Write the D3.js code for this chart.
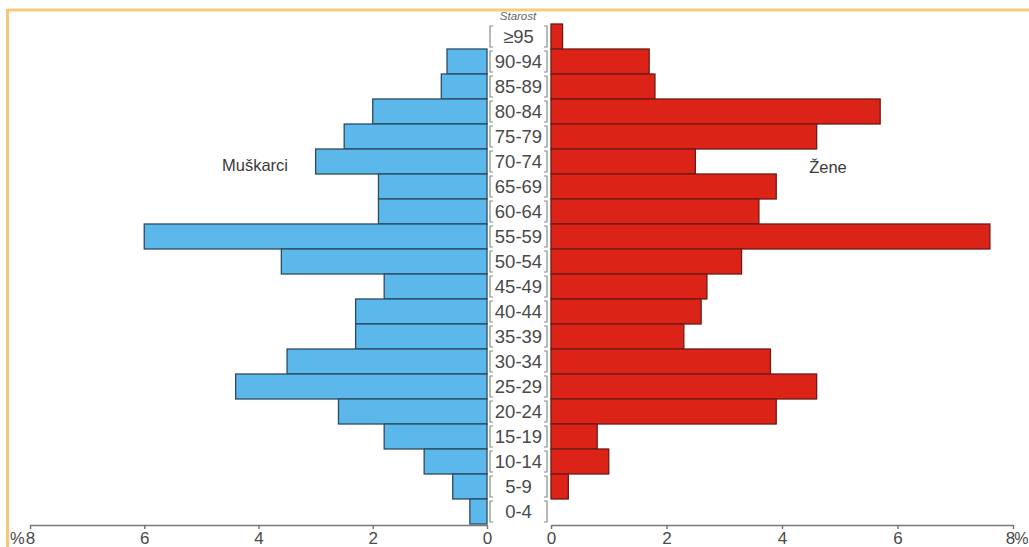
<!DOCTYPE html>
<html>
<head>
<meta charset="utf-8">
<script src="https://cdn.jsdelivr.net/npm/d3@7"></script>
<style>
  html, body { margin: 0; padding: 0; background: #ffffff; }
  svg { display: block; }
</style>
</head>
<body>
<svg id="chart" width="1029" height="547"></svg>
<script>
const ageGroups = ["≥95","90-94","85-89","80-84","75-79","70-74","65-69","60-64","55-59","50-54","45-49","40-44","35-39","30-34","25-29","20-24","15-19","10-14","5-9","0-4"];
const maleValues   = [0, 0.7, 0.8, 2.0, 2.5, 3.0, 1.9, 1.9, 6.0, 3.6, 1.8, 2.3, 2.3, 3.5, 4.4, 2.6, 1.8, 1.1, 0.6, 0.3];
const femaleValues = [0.2, 1.7, 1.8, 5.7, 4.6, 2.5, 3.9, 3.6, 7.6, 3.3, 2.7, 2.6, 2.3, 3.8, 4.6, 3.9, 0.8, 1.0, 0.3, 0];
const tickValues = [0, 2, 4, 6, 8];
const seriesLabels = ["Muškarci", "Žene"];
const axisTitle = "Starost";

const svg = d3.select("#chart");
const font = "'Liberation Sans', Arial, sans-serif";

// frame
svg.append("line").attr("x1", 7.5).attr("x2", 1029).attr("y1", 10).attr("y2", 10)
  .attr("stroke", "#f7cd7c").attr("stroke-width", 3);
svg.append("line").attr("x1", 7.5).attr("x2", 7.5).attr("y1", 9).attr("y2", 547)
  .attr("stroke", "#f5c878").attr("stroke-width", 3);

const xLeft = d3.scaleLinear().domain([0, 8]).range([487, 30]);
const xRight = d3.scaleLinear().domain([0, 8]).range([551, 1013]);
const y = d3.scaleBand().domain(ageGroups).range([24, 524]).padding(0);

// bars
svg.append("g").selectAll("rect").data(ageGroups.map((a, i) => ({a, v: maleValues[i]})).filter(d => d.v > 0))
  .join("rect")
  .attr("x", d => xLeft(d.v)).attr("y", d => y(d.a))
  .attr("width", d => xLeft(0) - xLeft(d.v)).attr("height", y.bandwidth())
  .attr("fill", "#5cb8eb").attr("stroke", "#2c4b60").attr("stroke-width", 1.3);

svg.append("g").selectAll("rect").data(ageGroups.map((a, i) => ({a, v: femaleValues[i]})).filter(d => d.v > 0))
  .join("rect")
  .attr("x", xRight(0)).attr("y", d => y(d.a))
  .attr("width", d => xRight(d.v) - xRight(0)).attr("height", y.bandwidth())
  .attr("fill", "#db2318").attr("stroke", "#6e1a15").attr("stroke-width", 1.3);

// age labels with brackets
const lab = svg.append("g");
ageGroups.forEach(a => {
  const t = y(a), b = t + y.bandwidth();
  const path = `M493,${t+2}H490V${b-2}H493 M544,${t+2}H547V${b-2}H544`;
  lab.append("path").attr("d", path).attr("fill", "none").attr("stroke", "#8a8a8a").attr("stroke-width", 1.2);
  lab.append("text").attr("x", 518.5).attr("y", t + y.bandwidth()/2 + 6.5)
    .attr("text-anchor", "middle").attr("font-family", font).attr("font-size", 18.5)
    .attr("fill", "#4a4a4a").text(a);
});

svg.append("text").attr("x", 518).attr("y", 20).attr("text-anchor", "middle")
  .attr("font-family", font).attr("font-size", 11.5).attr("font-style", "italic")
  .attr("fill", "#666").text(axisTitle);

// axes
const axisL = d3.axisBottom(xLeft).tickValues(tickValues).tickSize(4).tickSizeOuter(0).tickFormat(d3.format("d"));
const axisR = d3.axisBottom(xRight).tickValues(tickValues).tickSize(4).tickSizeOuter(0).tickFormat(d3.format("d"));
[axisL, axisR].forEach((ax, k) => {
  const g = svg.append("g").attr("transform", "translate(0,525)").call(ax);
  g.select(".domain").attr("stroke", "#777").attr("stroke-width", 1.5);
  g.selectAll(".tick line").attr("stroke", "#777").attr("stroke-width", 1.5);
  g.selectAll(".tick text").attr("font-family", font).attr("font-size", 17).attr("fill", "#4a4a4a")
    .attr("y", 19).attr("dy", 0)
    .attr("dx", d => (k === 1 && d === 8) ? -3 : 0);
});

svg.append("text").attr("x", 10).attr("y", 544).attr("text-anchor", "start")
  .attr("font-family", font).attr("font-size", 16.5).attr("fill", "#4a4a4a").text("%");
svg.append("text").attr("x", 1028.5).attr("y", 544).attr("text-anchor", "end")
  .attr("font-family", font).attr("font-size", 16).attr("fill", "#4a4a4a").text("%");

// series labels
svg.append("text").attr("x", 255).attr("y", 171).attr("text-anchor", "middle")
  .attr("font-family", font).attr("font-size", 16.5).attr("fill", "#3a3a3a").text(seriesLabels[0]);
svg.append("text").attr("x", 828).attr("y", 173).attr("text-anchor", "middle")
  .attr("font-family", font).attr("font-size", 16.5).attr("fill", "#3a3a3a").text(seriesLabels[1]);
</script>
</body>
</html>
